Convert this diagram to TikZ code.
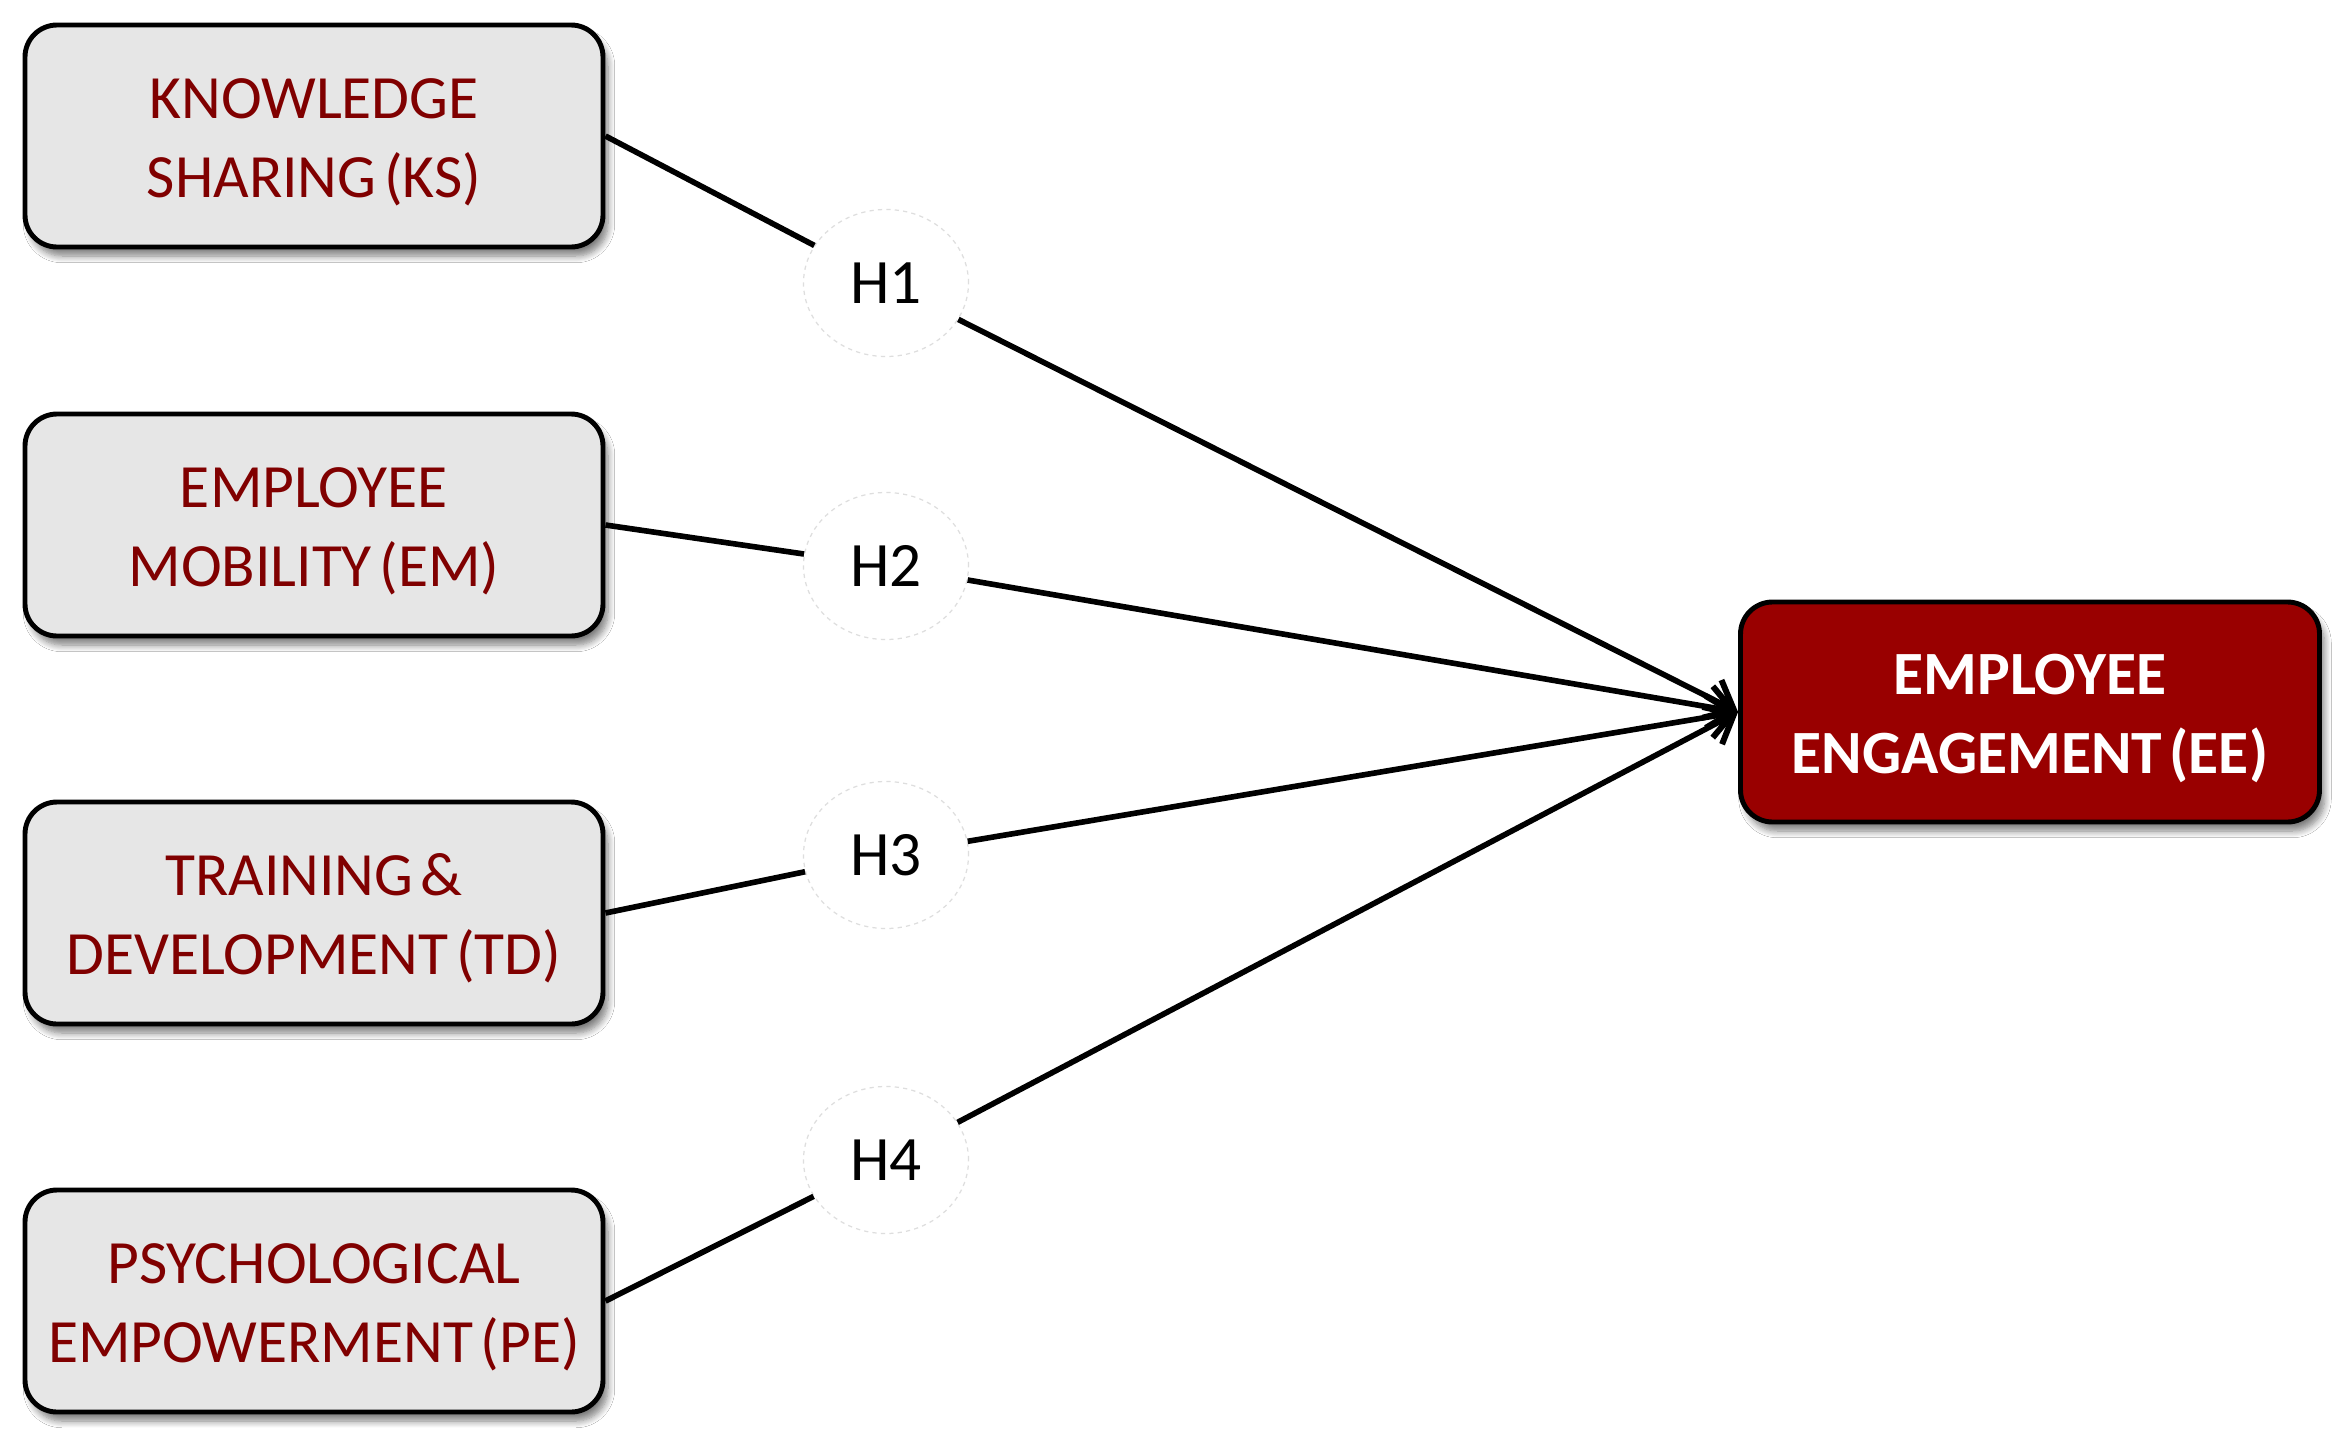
\documentclass[tikz,border=0pt]{standalone}
\usepackage{fontspec}
\setmainfont{Carlito}[WordSpace=0.55]
\usetikzlibrary{shapes.geometric,shadows.blur,arrows.meta}
\definecolor{txtred}{RGB}{128,0,0}
\definecolor{boxgray}{RGB}{230,230,230}
\definecolor{eered}{RGB}{153,0,0}
\definecolor{ringgray}{RGB}{222,222,222}
\newcommand\topstrut{\rule{0pt}{0.53cm}}
\begin{document}
\begin{tikzpicture}[
  varbox/.style={draw=black, line width=1.4pt, fill=boxgray, rounded corners=0.32cm,
    minimum width=5.78cm, minimum height=2.22cm, align=center, text=txtred,
    font=\fontsize{17.5}{22.4}\selectfont, inner sep=0pt,
    blur shadow={shadow xshift=0.05cm, shadow yshift=-0.09cm, shadow blur steps=8, shadow opacity=50}},
  eebox/.style={varbox, fill=eered, text=white, font=\fontsize{17.5}{22.4}\selectfont\bfseries,
    minimum width=5.79cm, minimum height=2.20cm},
  hyp/.style={ellipse, draw=ringgray, line width=0.35pt, dash pattern=on 1.2pt off 1.2pt,
    fill=white, minimum width=1.65cm, minimum height=1.47cm, inner sep=0pt,
    font=\fontsize{18}{21}\selectfont},
  link/.style={draw=black, line width=1.6pt},
  arr/.style={link, -{Straight Barb[length=7pt,width=12pt,line width=1.7pt]}}
]
\useasboundingbox (0,0) rectangle (23.47,-14.29);
\fill[white] (0,0) rectangle (23.47,-14.29);

\node[varbox] (ks) at (3.14,-1.36) {\topstrut KNOWLEDGE\\SHARING (KS)};
\node[varbox] (em) at (3.14,-5.25) {\topstrut EMPLOYEE\\MOBILITY (EM)};
\node[varbox] (td) at (3.14,-9.13) {\topstrut TRAINING \&\\DEVELOPMENT (TD)};
\node[varbox] (pe) at (3.14,-13.01) {\topstrut PSYCHOLOGICAL\\EMPOWERMENT (PE)};
\node[eebox] (ee) at (20.30,-7.12) {\topstrut EMPLOYEE\\ENGAGEMENT (EE)};

\node[hyp] (h1) at (8.86,-2.83) {H1};
\node[hyp] (h2) at (8.86,-5.66) {H2};
\node[hyp] (h3) at (8.86,-8.55) {H3};
\node[hyp] (h4) at (8.86,-11.60) {H4};

\draw[link] (ks.east) -- (h1);
\draw[link] (em.east) -- (h2);
\draw[link] (td.east) -- (h3);
\draw[link] (pe.east) -- (h4);

\draw[arr] (h1) -- (ee.west);
\draw[arr] (h2) -- (ee.west);
\draw[arr] (h3) -- (ee.west);
\draw[arr] (h4) -- (ee.west);
\end{tikzpicture}
\end{document}
